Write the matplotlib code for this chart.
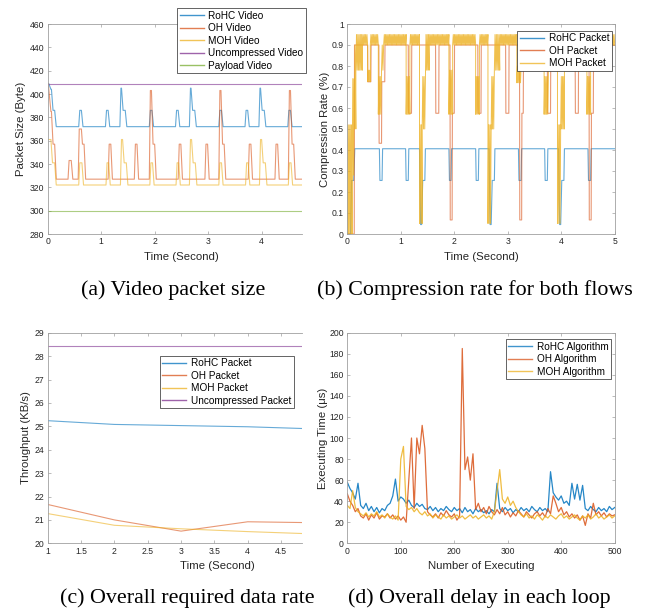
import numpy as np
import matplotlib
matplotlib.use('Agg')
import matplotlib.pyplot as plt

plt.rcParams['font.family'] = ['Liberation Sans', 'DejaVu Sans']

# MATLAB 默认配色
C_BLUE = '#0072BD'
C_ORANGE = '#D95319'
C_YELLOW = '#EDB120'
C_PURPLE = '#7E2F8E'
C_GREEN = '#77AC30'

# ---------------- (a) 视频包大小: (起始时间, 结束时间, 字节) 平台段 ----------------
rohc_video = [(0.00, 0.02, 409), (0.06, 0.07, 404), (0.10, 0.13, 386), (0.16, 0.58, 372),
              (0.60, 0.63, 386), (0.66, 1.08, 372), (1.10, 1.13, 386), (1.16, 1.35, 372),
              (1.37, 1.38, 405), (1.41, 1.45, 386), (1.48, 1.90, 372), (1.92, 1.95, 386),
              (1.98, 2.39, 372), (2.41, 2.44, 386), (2.47, 2.65, 372), (2.67, 2.68, 405),
              (2.71, 2.75, 386), (2.78, 3.20, 372), (3.22, 3.25, 386), (3.28, 3.69, 372),
              (3.71, 3.74, 386), (3.77, 3.95, 372), (3.97, 3.98, 405), (4.01, 4.05, 386),
              (4.08, 4.49, 372), (4.51, 4.54, 386), (4.57, 4.80, 372)]
oh_video = [(0.00, 0.01, 409), (0.06, 0.07, 385), (0.10, 0.13, 357), (0.16, 0.38, 327),
            (0.40, 0.44, 343), (0.47, 0.57, 327), (0.59, 0.63, 370), (0.65, 0.68, 357),
            (0.71, 1.13, 327), (1.15, 1.18, 357), (1.21, 1.62, 327), (1.64, 1.67, 357),
            (1.70, 1.90, 327), (1.92, 1.94, 403), (1.97, 2.00, 357), (2.03, 2.44, 327),
            (2.46, 2.49, 357), (2.52, 2.94, 327), (2.96, 2.99, 357), (3.02, 3.20, 327),
            (3.22, 3.24, 403), (3.27, 3.30, 357), (3.33, 3.75, 327), (3.77, 3.80, 357),
            (3.83, 4.25, 327), (4.27, 4.30, 357), (4.33, 4.50, 327), (4.52, 4.54, 403),
            (4.57, 4.60, 357), (4.63, 4.80, 327)]
moh_video = [(0.00, 0.06, 361), (0.09, 0.13, 341), (0.16, 0.58, 322), (0.60, 0.64, 341),
             (0.67, 1.09, 322), (1.11, 1.14, 341), (1.17, 1.36, 322), (1.38, 1.40, 361),
             (1.43, 1.47, 341), (1.50, 1.91, 322), (1.93, 1.96, 341), (1.99, 2.40, 322),
             (2.42, 2.45, 341), (2.48, 2.65, 322), (2.67, 2.69, 361), (2.72, 2.76, 341),
             (2.79, 3.20, 322), (3.22, 3.25, 341), (3.28, 3.70, 322), (3.72, 3.75, 341),
             (3.78, 3.96, 322), (3.98, 4.00, 361), (4.03, 4.07, 341), (4.10, 4.50, 322),
             (4.52, 4.55, 341), (4.58, 4.80, 322)]
uncompressed_video = [(0.00, 4.80, 409)]
payload_video = [(0.00, 4.80, 300)]

# ---------------- (b) 压缩率 ----------------
rohc_rate = [(0.00, 0.06, 0.0), (0.08, 0.12, 0.255), (0.14, 0.60, 0.406), (0.61, 0.65, 0.255),
             (0.66, 1.09, 0.406), (1.10, 1.14, 0.255), (1.15, 1.35, 0.406), (1.37, 1.39, 0.045),
             (1.41, 1.45, 0.255), (1.46, 1.90, 0.406), (1.91, 1.94, 0.255), (1.95, 2.40, 0.406),
             (2.41, 2.45, 0.255), (2.46, 2.65, 0.406), (2.67, 2.69, 0.045), (2.71, 2.75, 0.255),
             (2.76, 3.20, 0.406), (3.21, 3.25, 0.255), (3.26, 3.69, 0.406), (3.70, 3.74, 0.255),
             (3.75, 3.95, 0.406), (3.97, 3.99, 0.045), (4.01, 4.05, 0.255), (4.06, 4.50, 0.406),
             (4.51, 4.55, 0.255), (4.56, 5.00, 0.406)]
oh_rate = [(0.00, 0.13, 0.0), (0.135, 0.38, 0.9), (0.385, 0.44, 0.725), (0.445, 0.59, 0.9),
           (0.595, 0.64, 0.432), (0.645, 0.70, 0.725), (0.705, 1.14, 0.9), (1.145, 1.20, 0.575),
           (1.205, 1.65, 0.9), (1.655, 1.71, 0.575), (1.715, 1.92, 0.9), (1.925, 1.96, 0.067),
           (1.965, 2.00, 0.575), (2.005, 2.44, 0.9), (2.445, 2.50, 0.575), (2.505, 2.96, 0.9),
           (2.965, 3.02, 0.575), (3.025, 3.22, 0.9), (3.225, 3.26, 0.067), (3.265, 3.29, 0.575),
           (3.295, 3.74, 0.9), (3.745, 3.80, 0.575), (3.805, 4.26, 0.9), (4.265, 4.32, 0.575),
           (4.325, 4.52, 0.9), (4.525, 4.56, 0.067), (4.565, 4.60, 0.575), (4.605, 5.00, 0.9)]
# MOH 在两个水平之间来回跳动: (起始, 结束, 低值, 高值)
moh_rate = [(0.00, 0.09, 0.0, 0.52), (0.09, 0.13, 0.28, 0.74), (0.13, 0.16, 0.5, 0.9),
            (0.16, 0.28, 0.78, 0.95), (0.28, 0.38, 0.90, 0.95), (0.38, 0.43, 0.725, 0.78),
            (0.43, 0.58, 0.90, 0.95), (0.58, 0.64, 0.57, 0.75), (0.64, 0.68, 0.78, 0.90),
            (0.68, 1.10, 0.90, 0.95), (1.10, 1.17, 0.57, 0.75), (1.17, 1.35, 0.90, 0.95),
            (1.35, 1.40, 0.05, 0.52), (1.40, 1.46, 0.50, 0.75), (1.46, 1.53, 0.78, 0.95),
            (1.53, 1.90, 0.90, 0.95), (1.90, 1.97, 0.57, 0.78), (1.97, 2.40, 0.90, 0.95),
            (2.40, 2.47, 0.57, 0.75), (2.47, 2.63, 0.90, 0.95), (2.63, 2.69, 0.05, 0.52),
            (2.69, 2.75, 0.50, 0.75), (2.75, 2.85, 0.78, 0.95), (2.85, 3.17, 0.90, 0.95),
            (3.17, 3.25, 0.72, 0.80), (3.25, 3.68, 0.90, 0.95), (3.68, 3.76, 0.57, 0.75),
            (3.76, 3.93, 0.90, 0.95), (3.93, 3.99, 0.05, 0.52), (3.99, 4.06, 0.50, 0.75),
            (4.06, 4.48, 0.90, 0.95), (4.48, 4.55, 0.57, 0.75), (4.55, 5.00, 0.90, 0.95)]

# ---------------- (c) 吞吐量 ----------------
time_c = [1, 2, 3, 4, 5]
rohc_tp = [25.24, 25.08, 25.03, 24.98, 24.89]
oh_tp = [21.66, 21.00, 20.52, 20.92, 20.88]
moh_tp = [21.27, 20.77, 20.62, 20.50, 20.40]
uncompressed_tp = [28.42, 28.42, 28.42, 28.42, 28.42]

# ---------------- (d) 每次执行耗时 (每 5 次取一个点) ----------------
exec_idx = np.arange(0, 501, 5)
rohc_delay = [58, 52, 48, 42, 57, 36, 33, 38, 31, 35,
              30, 34, 29, 33, 31, 36, 38, 45, 61, 40,
              44, 42, 38, 41, 36, 34, 38, 35, 37, 33,
              32, 35, 31, 34, 30, 33, 31, 35, 32, 30,
              34, 31, 33, 29, 34, 30, 32, 28, 33, 30,
              32, 29, 31, 28, 32, 30, 57, 33, 30, 34,
              31, 33, 29, 32, 30, 34, 31, 33, 30, 35,
              32, 30, 34, 31, 33, 30, 68, 48, 44, 41,
              45, 38, 40, 36, 57, 42, 56, 41, 55, 33,
              31, 35, 32, 30, 34, 31, 33, 30, 35, 32,
              34]
oh_delay = [47, 40, 36, 30, 33, 26, 24, 28, 22, 27,
            24, 29, 23, 26, 25, 28, 24, 27, 23, 26,
            22, 25, 20, 60, 100, 33, 100, 85, 112, 90,
            30, 27, 25, 28, 24, 29, 26, 31, 27, 25,
            28, 22, 26, 185, 70, 82, 60, 85, 32, 38,
            30, 34, 28, 35, 30, 27, 32, 28, 34, 27,
            30, 25, 29, 26, 31, 28, 25, 30, 27, 24,
            28, 30, 26, 29, 25, 33, 28, 45, 38, 30,
            34, 27, 30, 25, 28, 24, 27, 22, 26, 17,
            28, 24, 38, 27, 30, 26, 29, 25, 28, 26,
            27]
moh_delay = [36, 33, 50, 34, 30, 28, 26, 29, 25, 28,
             26, 30, 25, 27, 24, 28, 25, 23, 26, 22,
             80, 92, 35, 32, 34, 30, 33, 29, 27, 30,
             26, 28, 24, 27, 25, 23, 27, 24, 26, 23,
             25, 27, 24, 26, 23, 25, 27, 24, 26, 23,
             25, 27, 24, 26, 23, 30, 50, 70, 42, 38,
             44, 36, 40, 34, 30, 27, 25, 28, 24, 26,
             23, 27, 25, 22, 26, 24, 27, 25, 23, 26,
             28, 24, 26, 23, 25, 27, 24, 22, 26, 24,
             27, 23, 25, 28, 24, 26, 23, 25, 27, 24,
             26]


def plateau_xy(plateaus):
    t, v = [], []
    for t0, t1, val in plateaus:
        t += [t0, t1]
        v += [val, val]
    return t, v


def band_xy(segments, dt=0.012):
    t, v = [], []
    for t0, t1, lo, hi in segments:
        n = max(int(round((t1 - t0) / dt)), 1)
        for k in range(n + 1):
            t.append(t0 + k * (t1 - t0) / n)
            v.append(hi if k % 2 else lo)
    return t, v


W, H = 645, 612


def box(l, t, r, b):
    return [l / W, 1 - b / H, (r - l) / W, (b - t) / H]


def style(ax, cropped=False):
    for s in ax.spines.values():
        s.set_color('#a0a0a0')
        s.set_linewidth(0.6)
    ax.tick_params(direction='in', length=2.5, width=0.5, colors='#a0a0a0',
                   labelcolor='#262626', labelsize=6.2, top=True, right=not cropped, pad=2.5)
    if cropped:
        ax.spines['right'].set_visible(False)


def legend(ax, x, y):
    lg = ax.legend(loc='upper left', bbox_to_anchor=(x / W, 1 - y / H),
                   bbox_transform=fig.transFigure, fontsize=7.2, frameon=True,
                   fancybox=False, edgecolor='#262626', framealpha=1,
                   borderpad=0.25, labelspacing=0.25, handlelength=2.4,
                   handletextpad=0.5, borderaxespad=0)
    lg.get_frame().set_linewidth(0.5)
    for line in lg.get_lines():
        line.set_linewidth(1.0)
        line.set_alpha(0.75)


def labels(ax, xl, yl, xc, yc, box_px):
    l, t, r, b = box_px
    ax.set_xlabel(xl, fontsize=8.2, va='center', color='#262626')
    ax.set_ylabel(yl, fontsize=8.2, va='center', color='#262626')
    ax.xaxis.set_label_coords((xc[0] - l) / (r - l), -(xc[1] - b) / (b - t))
    ax.yaxis.set_label_coords((yc - l) / (r - l), 0.5)


fmt = matplotlib.ticker.FuncFormatter(lambda v, p: f'{v:g}')

fig = plt.figure(figsize=(6.45, 6.12), dpi=100)

# (a)
pa = (47.7, 24, 301.7, 234)
ax = fig.add_axes(box(*pa))
for data, c, name in [(rohc_video, C_BLUE, 'RoHC Video'), (oh_video, C_ORANGE, 'OH Video'),
                      (moh_video, C_YELLOW, 'MOH Video'),
                      (uncompressed_video, C_PURPLE, 'Uncompressed Video'),
                      (payload_video, C_GREEN, 'Payload Video')]:
    t, v = plateau_xy(data)
    ax.plot(t, v, color=c, lw=0.8, alpha=0.6, label=name)
ax.set_xlim(0, 4.75)
ax.set_ylim(280, 460)
ax.set_xticks(range(5))
ax.set_yticks(range(280, 461, 20))
style(ax, cropped=True)
labels(ax, 'Time (Second)', 'Packet Size (Byte)', (181, 257), 21, pa)
legend(ax, 177, 8.3)

# (b)
pb = (347.3, 24, 614.7, 234)
ax = fig.add_axes(box(*pb))
t, v = plateau_xy(rohc_rate)
ax.plot(t, v, color=C_BLUE, lw=0.8, alpha=0.6, label='RoHC Packet')
t, v = plateau_xy(oh_rate)
ax.plot(t, v, color=C_ORANGE, lw=0.8, alpha=0.6, label='OH Packet')
t, v = band_xy(moh_rate)
ax.plot(t, v, color=C_YELLOW, lw=0.7, alpha=0.8, label='MOH Packet')
ax.set_xlim(0, 5)
ax.set_ylim(0, 1)
ax.set_xticks(range(6))
ax.set_yticks(np.round(np.arange(0, 1.01, 0.1), 1))
ax.yaxis.set_major_formatter(fmt)
style(ax)
labels(ax, 'Time (Second)', 'Compression Rate (%)', (481, 257), 325, pb)
legend(ax, 517.3, 30.7)

# (c)
pc = (47.7, 332.7, 301.7, 543.3)
ax = fig.add_axes(box(*pc))
ax.plot(time_c, rohc_tp, color=C_BLUE, lw=0.8, alpha=0.6, label='RoHC Packet')
ax.plot(time_c, oh_tp, color=C_ORANGE, lw=0.8, alpha=0.6, label='OH Packet')
ax.plot(time_c, moh_tp, color=C_YELLOW, lw=0.8, alpha=0.6, label='MOH Packet')
ax.plot(time_c, uncompressed_tp, color=C_PURPLE, lw=0.8, alpha=0.6, label='Uncompressed Packet')
ax.set_xlim(1, 4.81)
ax.set_ylim(20, 29)
ax.set_xticks(np.arange(1, 4.51, 0.5))
ax.xaxis.set_major_formatter(fmt)
ax.set_yticks(range(20, 30))
style(ax, cropped=True)
labels(ax, 'Time (Second)', 'Throughput (KB/s)', (217, 566), 25.7, pc)
legend(ax, 159.7, 355.7)

# (d)
pd_ = (347.3, 332.7, 614.7, 543.3)
ax = fig.add_axes(box(*pd_))
ax.plot(exec_idx, rohc_delay, color=C_BLUE, lw=0.9, alpha=0.85, label='RoHC Algorithm')
ax.plot(exec_idx, oh_delay, color=C_ORANGE, lw=0.9, alpha=0.85, label='OH Algorithm')
ax.plot(exec_idx, moh_delay, color=C_YELLOW, lw=0.9, alpha=0.85, label='MOH Algorithm')
ax.set_xlim(0, 500)
ax.set_ylim(0, 200)
ax.set_xticks(range(0, 501, 100))
ax.set_yticks(range(0, 201, 20))
style(ax)
labels(ax, 'Number of Executing', 'Executing Time (\u03bcs)', (481, 566), 323, pd_)
legend(ax, 505.7, 339.3)

# 子图标题
cap = dict(family=['Liberation Serif', 'DejaVu Serif'], fontsize=15.8, ha='center', va='center')
fig.text(173 / W, 1 - 290 / H, '(a) Video packet size', **cap)
fig.text(475 / W, 1 - 290 / H, '(b) Compression rate for both flows', **cap)
fig.text(187 / W, 1 - 598 / H, '(c) Overall required data rate', **cap)
fig.text(479 / W, 1 - 598 / H, '(d) Overall delay in each loop', **cap)

fig.savefig('out.png', dpi=100)
